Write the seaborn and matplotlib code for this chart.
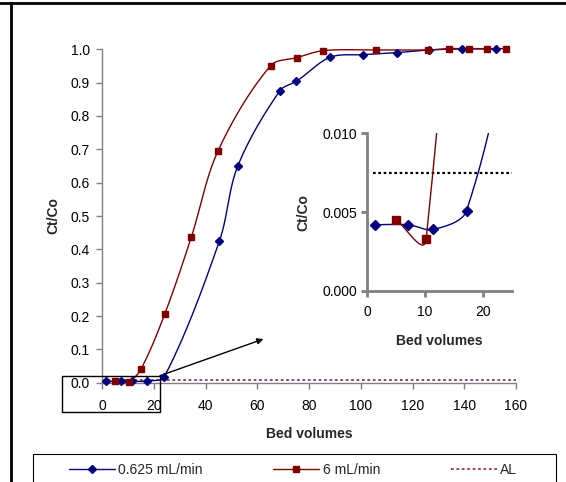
import numpy as np
import matplotlib
matplotlib.use("Agg")
import matplotlib.pyplot as plt
from matplotlib.lines import Line2D
from matplotlib.patches import Rectangle
import seaborn as sns

# Breakthrough data: bed volumes vs. normalised concentration Ct/Co
bv_slow = [1.3, 7.1, 11.4, 17.2, 24.0, 45.3, 52.4, 68.7, 75.1, 88.1, 101.0, 113.9, 126.4, 139.3, 152.2]
c_slow = [0.0042, 0.0042, 0.0039, 0.0051, 0.018, 0.425, 0.650, 0.876, 0.904, 0.976, 0.984, 0.990, 0.998, 1.001, 1.001]

bv_fast = [5.0, 10.2, 14.9, 24.1, 34.4, 44.8, 65.1, 75.3, 85.5, 105.8, 126.1, 134.1, 141.9, 148.9, 156.1]
c_fast = [0.0045, 0.0033, 0.040, 0.205, 0.436, 0.696, 0.951, 0.975, 0.996, 0.998, 0.998, 1.002, 1.002, 1.002, 1.002]

al_level = 0.0075
series_labels = ["0.625 mL/min", "6 mL/min", "AL"]

main_xticks = list(range(0, 161, 20))
main_yticks = [round(0.1 * i, 1) for i in range(11)]
inset_xticks = [0, 10, 20]
inset_yticks = [0.000, 0.005, 0.010]

BLUE = "#000080"
RED = "#800000"
AL_MAIN = "#993366"
AXIS_GREY = "#808080"

sns.set_theme(style="white")
plt.rcParams["font.family"] = ["Liberation Sans", "DejaVu Sans"]
plt.rcParams["font.size"] = 10

W, H = 566, 482
fig = plt.figure(figsize=(W / 100, H / 100), dpi=100)


def px_axes(left, top, right, bottom):
    return fig.add_axes([left / W, 1 - bottom / H, (right - left) / W, (bottom - top) / H])


def smooth_path(ax, xs, ys, n=40, tension=1 / 3):
    """Piecewise cubic Bezier through the points, built in screen space."""
    pts = ax.transData.transform(np.column_stack([xs, ys]))
    m = len(pts)
    d = np.linalg.norm(np.diff(pts, axis=0), axis=1)
    d = np.where(d == 0, 1e-9, d)
    out = []
    for i in range(m - 1):
        p0, p1 = pts[i], pts[i + 1]
        if i == 0:
            c1 = p0 + (p1 - p0) * tension * 0.5
        else:
            t = pts[i + 1] - pts[i - 1]
            c1 = p0 + t * tension * d[i] / (d[i - 1] + d[i])
        if i + 1 == m - 1:
            c2 = p1 - (p1 - p0) * tension * 0.5
        else:
            t = pts[i + 2] - pts[i]
            c2 = p1 - t * tension * d[i] / (d[i] + d[i + 1])
        s = np.linspace(0, 1, n)[:, None]
        seg = ((1 - s) ** 3) * p0 + 3 * ((1 - s) ** 2) * s * c1 + 3 * (1 - s) * s ** 2 * c2 + s ** 3 * p1
        out.append(seg if i == 0 else seg[1:])
    curve = np.vstack(out)
    data = ax.transData.inverted().transform(curve)
    return data[:, 0], data[:, 1]


def style_axes(ax, lw):
    sns.despine(ax=ax)
    for side in ("left", "bottom"):
        ax.spines[side].set_color(AXIS_GREY)
        ax.spines[side].set_linewidth(lw)
    ax.tick_params(axis="both", which="major", direction="out", length=4,
                   width=lw, color=AXIS_GREY, labelsize=10, labelcolor="black",
                   left=True, bottom=True)
    ax.grid(False)
    ax.set_facecolor("white")


# ---------------- main axes ----------------
ax = px_axes(102.3, 49.3, 516, 382.7)
ax.set_xlim(0, 160)
ax.set_ylim(0, 1.0)
style_axes(ax, 1.0)
ax.set_xticks(main_xticks)
ax.set_yticks(main_yticks)
ax.set_yticklabels([f"{v:.1f}" for v in main_yticks])
ax.tick_params(axis="x", pad=8)
ax.tick_params(axis="y", pad=5)
ax.set_xlabel("Bed volumes", fontsize=10, fontweight="bold", labelpad=10)
ax.set_ylabel("Ct/Co", fontsize=10, fontweight="bold", labelpad=7)

ax.plot([0, 160], [al_level, al_level], color=AL_MAIN, lw=1.3,
        linestyle=(0, (1.5, 1.5)), zorder=2)

for xs, ys, col, mk, ms in ((bv_slow, c_slow, BLUE, "D", 4.5),
                            (bv_fast, c_fast, RED, "s", 5)):
    sx, sy = smooth_path(ax, xs, ys)
    sns.lineplot(x=sx, y=sy, sort=False, estimator=None, color=col, lw=1.0,
                 ax=ax, zorder=3)
    ax.plot(xs, ys, linestyle="none", marker=mk, ms=ms, color=col,
            clip_on=False, zorder=4)
for ln in ax.lines:
    ln.set_clip_on(False)

# zoom box around the low-concentration region and pointer to the inset
zoom_box = Rectangle((-15.7, -0.089), 38.0, 0.110, transform=ax.transData,
                     fill=False, edgecolor="black", lw=1.0, clip_on=False, zorder=5)
ax.add_patch(zoom_box)
ax.annotate("", xy=(62.3, 0.131), xytext=(22.3, 0.021),
            arrowprops=dict(arrowstyle="-|>", color="black", lw=1.0,
                            mutation_scale=9, shrinkA=0, shrinkB=0),
            annotation_clip=False)

# ---------------- inset ----------------
ins = px_axes(367.3, 133.3, 511.6, 291)
ins.set_xlim(0, 25)
ins.set_ylim(0, 0.010)
style_axes(ins, 2.0)
ins.set_xticks(inset_xticks)
ins.set_yticks(inset_yticks)
ins.set_yticklabels([f"{v:.3f}" for v in inset_yticks])
ins.tick_params(axis="x", pad=6)
ins.tick_params(axis="y", pad=3)
ins.set_xlabel("Bed volumes", fontsize=10, fontweight="bold", labelpad=11)
ins.set_ylabel("Ct/Co", fontsize=10, fontweight="bold", labelpad=9)

ins.plot([1, 25], [al_level, al_level], color="black", lw=1.6,
         linestyle=(0, (1.2, 1.2)), zorder=2)
for xs, ys, col, mk, ms, ten in ((bv_slow, c_slow, BLUE, "D", 5, 1 / 3),
                                 (bv_fast, c_fast, RED, "s", 5.5, 0.6)):
    sx, sy = smooth_path(ins, xs, ys, tension=ten)
    sns.lineplot(x=sx, y=sy, sort=False, estimator=None, color=col, lw=1.0,
                 ax=ins, zorder=3)
    ins.plot(xs, ys, linestyle="none", marker=mk, ms=ms, color=col, zorder=4)

# ---------------- legend ----------------
handles = [
    Line2D([], [], color=BLUE, lw=1.0, marker="D", ms=4.5),
    Line2D([], [], color=RED, lw=1.0, marker="s", ms=5),
    Line2D([], [], color=AL_MAIN, lw=1.3, linestyle=(0, (1.5, 1.5))),
]
fig.legend(handles, series_labels, loc="center", bbox_to_anchor=(293 / W, 1 - 470 / H),
           ncol=3, frameon=False, fontsize=10, handlelength=3.3,
           handletextpad=0.25, columnspacing=5.1)
fig.patches.append(Rectangle((33 / W, 1 - 488 / H), 523 / W, 34 / H,
                             transform=fig.transFigure, fill=False,
                             edgecolor="black", lw=0.8))

# outer frame lines
fig.add_artist(Line2D([0, 1], [1 - 3 / H, 1 - 3 / H], transform=fig.transFigure,
                      color="black", lw=2))
fig.add_artist(Line2D([11 / W, 11 / W], [0, 1 - 3 / H], transform=fig.transFigure,
                      color="black", lw=2))

fig.savefig("out.png", dpi=100)
